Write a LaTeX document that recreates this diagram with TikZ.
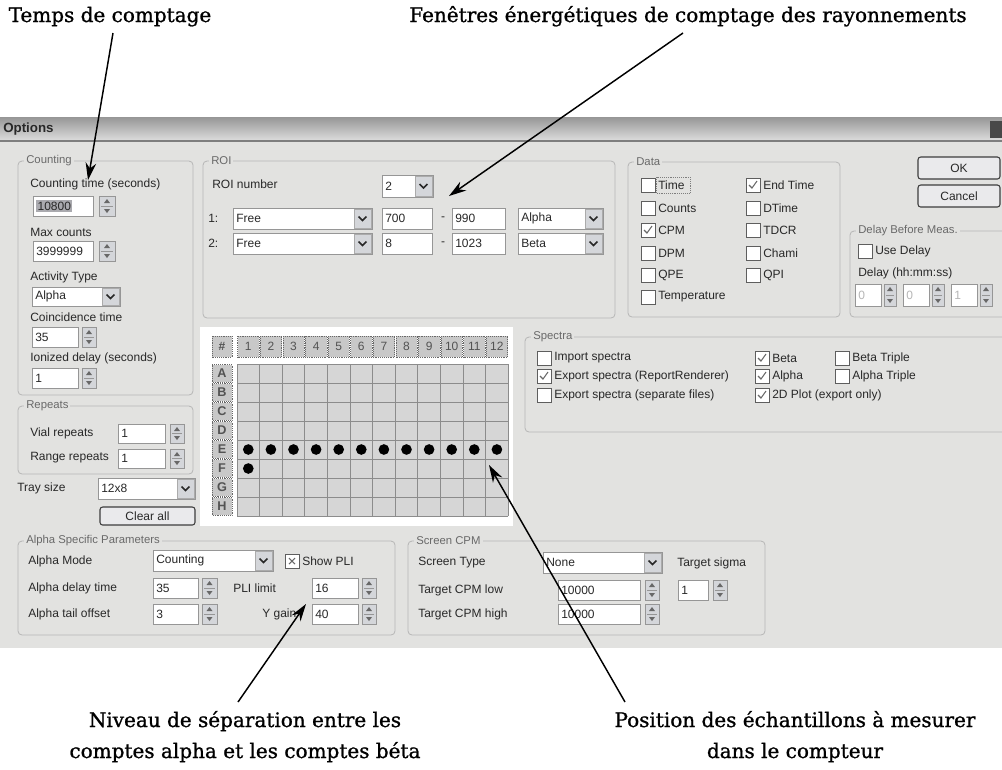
\documentclass[tikz,border=0pt]{standalone}
\usepackage{fontspec}
\usetikzlibrary{arrows.meta, calc}
\newfontfamily\notefont{DejaVu Serif}[FakeBold=1]
\newfontfamily\uifont{Liberation Sans}
\definecolor{dlgbg}{RGB}{226,226,224}
\definecolor{grpcol}{RGB}{182,182,182}
\definecolor{fieldline}{RGB}{150,150,150}
\definecolor{btnface}{RGB}{212,214,218}
\definecolor{cellfill}{RGB}{214,214,214}
\definecolor{cellline}{RGB}{140,140,140}
\definecolor{hdrfill}{RGB}{200,200,200}
\definecolor{titletop}{RGB}{150,150,150}
\definecolor{titlebot}{RGB}{222,222,222}
\definecolor{uiink}{RGB}{40,40,40}
\definecolor{grplabelc}{RGB}{105,105,105}
\definecolor{selfill}{RGB}{170,170,175}

% field: [style] name, x, y, w, h, text
\newcommand{\uifield}[7][]{%
  \draw[fieldbox] (#3,#4) rectangle ++(#5,#6);
  \node[uitext, anchor=west, #1] (#2) at (#3+3,#4+#6/2) {#7};
}
% spinner: x, y, w, h
\newcommand{\uispin}[4]{%
  \draw[spinbox] (#1,#2) rectangle ++(#3,#4);
  \fill[spinarrow] (#1+#3/2,#2+3) -- ++(-3,4) -- ++(6,0) -- cycle;
  \fill[spinarrow] (#1+#3/2,#2+#4-3) -- ++(-3,-4) -- ++(6,0) -- cycle;
  \draw[spinbox] (#1+2,#2+#4/2) -- ++(#3-4,0);
}
% combo: name, x, y, w, h, text
\newcommand{\uicombo}[6]{%
  \draw[fieldbox] (#2,#3) rectangle ++(#4,#5);
  \draw[dropbtn] (#2+#4-18,#3+1) rectangle (#2+#4-1,#3+#5-1);
  \draw[chev] (#2+#4-13.5,#3+#5/2-2) -- ++(4,4) -- ++(4,-4);
  \node[uitext, anchor=west] (#1) at (#2+3,#3+#5/2) {#6};
}
% checkbox: name, x, y, state, text
\newcommand{\uicheck}[5]{%
  \draw[chkbox] (#2,#3-7) rectangle ++(14,14);
  \ifnum#4=1 \draw[chkmark] (#2+3,#3) -- (#2+6,#3+3) -- (#2+11,#3-4);\fi
  \ifnum#4=2 \draw[chkmark] (#2+4,#3-3) -- (#2+10,#3+3) (#2+4,#3+3) -- (#2+10,#3-3);\fi
  \node[uitext, anchor=west] (#1) at (#2+17,#3) {#5};
}
% group: name, x1, y1, x2, y2, label
\newcommand{\uigroup}[6]{%
  \draw[grpframe] (#2,#3) rectangle (#4,#5);
  \node[grplabel, anchor=west] (#1) at (#2+6,#3) {#6};
}
% button: name, x1, y1, x2, y2, text
\newcommand{\uibutton}[6]{%
  \draw[btnbox] (#2,#3) rectangle (#4,#5);
  \node[uitext] (#1) at ($(#2,#3)!0.5!(#4,#5)$) {#6};
}

\begin{document}
\begin{tikzpicture}[
    x=0.75pt, y=-0.75pt,
    note/.style={font=\notefont\fontsize{15}{23.25}\selectfont, align=center, inner sep=0pt},
    uitext/.style={font=\uifont\fontsize{9}{10}\selectfont, text=uiink, inner sep=0pt},
    titletext/.style={font=\uifont\bfseries\fontsize{10}{12}\selectfont, text=uiink, inner sep=0pt},
    grplabel/.style={font=\uifont\fontsize{8.5}{10}\selectfont, text=grplabelc, fill=dlgbg, inner sep=1.5pt},
    fieldbox/.style={draw=fieldline, fill=white, line width=0.6pt},
    spinbox/.style={draw=fieldline, fill=btnface, line width=0.5pt},
    spinarrow/.style={fill=uiink!70},
    dropbtn/.style={draw=fieldline!80, fill=btnface, line width=0.5pt},
    chev/.style={draw=uiink, line width=1.1pt},
    chkbox/.style={draw=uiink!75, fill=white, line width=0.6pt},
    chkmark/.style={draw=uiink!70, line width=0.8pt},
    grpframe/.style={draw=grpcol, line width=0.6pt, rounded corners=3pt},
    btnbox/.style={draw=uiink!90, fill=btnface!50!white, rounded corners=2pt, line width=0.8pt},
    hdr/.style={draw=uiink!70, densely dotted, fill=hdrfill},
    hdrtext/.style={font=\uifont\fontsize{9}{10}\selectfont, text=uiink!80, inner sep=0pt},
    arr/.style={-{Stealth[length=13pt, width=8pt]}, line width=1.1pt, draw=black},
]
\useasboundingbox (0,0) rectangle (1002,769);
\fill[white] (0,0) rectangle (1002,769);

% Window
\shade[top color=titletop, bottom color=titlebot] (0,117) rectangle (1002,141);
\fill[dlgbg] (0,141) rectangle (1002,648);
\draw[uiink!60, line width=0.8pt] (0,141) -- (1002,141);
\node[titletext, anchor=west] (title) at (3,129) {Options};
\fill[uiink!85] (990,121) rectangle (1004,138);

% Counting
\uigroup{gcount}{18}{161}{193}{395}{Counting}
\node[uitext, anchor=west] (lctime) at (30,184) {Counting time (seconds)};
\uifield[fill=selfill, inner sep=1pt]{fctime}{33}{196}{60}{20}{10800}
\uispin{99}{196}{16}{20}
\node[uitext, anchor=west] (lmax) at (30,232) {Max counts};
\uifield{fmax}{33}{241}{60}{20}{3999999}
\uispin{99}{241}{16}{20}
\node[uitext, anchor=west] (lact) at (30,277) {Activity Type};
\uicombo{cact}{32}{287}{88}{19}{Alpha}
\node[uitext, anchor=west] (lcoinc) at (30,317) {Coincidence time};
\uifield{fcoinc}{32}{327}{46}{20}{35}
\uispin{82}{327}{14}{20}
\node[uitext, anchor=west] (lion) at (30,358) {Ionized delay (seconds)};
\uifield{fion}{32}{368}{46}{20}{1}
\uispin{82}{368}{14}{20}

% Repeats
\uigroup{grep}{18}{406}{193}{474}{Repeats}
\node[uitext, anchor=west] (lvial) at (30,433) {Vial repeats};
\uifield{fvial}{118}{424}{47}{19}{1}
\uispin{170}{424}{14}{19}
\node[uitext, anchor=west] (lrange) at (30,458) {Range repeats};
\uifield{frange}{118}{449}{47}{19}{1}
\uispin{170}{449}{14}{19}
\node[uitext, anchor=west] (ltray) at (17,488) {Tray size};
\uicombo{ctray}{98}{478}{97}{21}{12x8}
\uibutton{bclear}{100}{507}{195}{525}{Clear all}

% ROI
\uigroup{groi}{203}{161}{615}{318}{ROI}
\node[uitext, anchor=west] (lroi) at (212,184) {ROI number};
\uicombo{croi}{382}{175}{51}{22}{2}
\node[uitext, anchor=west] (lr1) at (208,218) {1:};
\uicombo{cr1a}{233}{208}{139}{21}{Free}
\uifield{fr1lo}{382}{208}{50}{21}{700}
\node[uitext] (dr1) at (443,219) {-};
\uifield{fr1hi}{452}{208}{53}{21}{990}
\uicombo{cr1t}{518}{208}{85}{21}{Alpha}
\node[uitext, anchor=west] (lr2) at (208,243) {2:};
\uicombo{cr2a}{233}{233}{139}{21}{Free}
\uifield{fr2lo}{382}{233}{50}{21}{8}
\node[uitext] (dr2) at (443,244) {-};
\uifield{fr2hi}{452}{233}{53}{21}{1023}
\uicombo{cr2t}{518}{233}{85}{21}{Beta}

% Data
\uigroup{gdata}{628}{162}{840}{317}{Data}
\uicheck{dtime}{641}{185}{0}{Time}
\draw[uiink!60, densely dotted] (656,177) rectangle (690,193);
\uicheck{dcounts}{641}{208}{0}{Counts}
\uicheck{dcpm}{641}{230}{1}{CPM}
\uicheck{ddpm}{641}{253}{0}{DPM}
\uicheck{dqpe}{641}{275}{0}{QPE}
\uicheck{dtemp}{641}{297}{0}{Temperature}
\uicheck{dend}{746}{185}{1}{End Time}
\uicheck{ddtime}{746}{208}{0}{DTime}
\uicheck{dtdcr}{746}{230}{0}{TDCR}
\uicheck{dchami}{746}{253}{0}{Chami}
\uicheck{dqpi}{746}{275}{0}{QPI}

% OK / Cancel
\uibutton{bok}{918}{157}{1000}{179}{OK}
\uibutton{bcancel}{918}{185}{1000}{207}{Cancel}

% Delay before measurement
\uigroup{gdelay}{850}{231}{1010}{317}{Delay Before Meas.}
\uicheck{usedelay}{858}{251}{0}{Use Delay}
\node[uitext, anchor=west] (ldelay) at (858,273) {Delay (hh:mm:ss)};
\uifield[text=grpcol]{fhh}{855}{284}{26}{22}{0}
\uispin{884}{284}{12}{22}
\uifield[text=grpcol]{fmm}{903}{284}{26}{22}{0}
\uispin{932}{284}{12}{22}
\uifield[text=grpcol]{fss}{951}{284}{26}{22}{1}
\uispin{980}{284}{12}{22}

% Spectra
\uigroup{gspec}{525}{337}{1010}{432}{Spectra}
\uicheck{simport}{537}{358}{0}{Import spectra}
\uicheck{srep}{537}{376}{1}{Export spectra (ReportRenderer)}
\uicheck{ssep}{537}{395}{0}{Export spectra (separate files)}
\uicheck{sbeta}{755}{358}{1}{Beta}
\uicheck{salpha}{755}{376}{1}{Alpha}
\uicheck{splot}{755}{395}{1}{2D Plot (export only)}
\uicheck{sbtrip}{835}{358}{0}{Beta Triple}
\uicheck{satrip}{835}{376}{0}{Alpha Triple}

% Tray grid
\fill[white] (200,327) rectangle (513,526);
\draw[hdr] (212,336) rectangle (232,357);
\node[hdrtext, font=\uifont\bfseries\fontsize{9}{10}\selectfont] (corner) at (222,346.5) {\#};
\foreach \i in {1,...,12} {
  \draw[hdr] (237+\i*22.6-22.6+0.6,336) rectangle (237+\i*22.6-0.6,357);
  \node[hdrtext] (col\i) at (237+\i*22.6-11.3,346.5) {\i};
}
\fill[cellfill] (237,364) rectangle (508.2,516);
\foreach \i in {0,...,12}
  \draw[cellline, line width=0.5pt] (237+\i*22.6,364) -- ++(0,152);
\foreach \k in {0,...,8}
  \draw[cellline, line width=0.5pt] (237,364+19*\k) -- ++(271.2,0);
\foreach \r [count=\k from 0] in {A,B,C,D,E,F,G,H} {
  \draw[hdr] (212,364+19*\k+0.6) rectangle (232,364+19*\k+18.4);
  \node[hdrtext, font=\uifont\bfseries\fontsize{9.5}{10}\selectfont] (row\r) at (222,373.5+19*\k) {\r};
}
\foreach \i in {0,...,11}
  \fill[black] (248.3+\i*22.6,449.5) circle[radius=4pt];
\fill[black] (248.3,468.5) circle[radius=4pt];

% Alpha specific parameters
\uigroup{galpha}{18}{541}{395}{635}{Alpha Specific Parameters}
\node[uitext, anchor=west] (lamode) at (28,561) {Alpha Mode};
\uicombo{camode}{153}{550}{120}{21}{Counting}
\uicheck{showpli}{285}{561}{2}{Show PLI}
\node[uitext, anchor=west] (ladelay) at (28,588) {Alpha delay time};
\uifield{fadelay}{153}{578}{45}{20}{35}
\uispin{202}{578}{15}{20}
\node[uitext, anchor=west] (lpli) at (233,588) {PLI limit};
\uifield{fpli}{312}{578}{46}{20}{16}
\uispin{362}{578}{14}{20}
\node[uitext, anchor=west] (latail) at (28,614) {Alpha tail offset};
\uifield{fatail}{153}{604}{45}{20}{3}
\uispin{202}{604}{15}{20}
\node[uitext, anchor=west] (lygain) at (262,614) {Y gain};
\uifield{fygain}{312}{604}{46}{20}{40}
\uispin{362}{604}{14}{20}

% Screen CPM
\uigroup{gscreen}{408}{541}{765}{635}{Screen CPM}
\node[uitext, anchor=west] (lstype) at (418,563) {Screen Type};
\uicombo{cstype}{543}{552}{119}{21}{None}
\node[uitext, anchor=west] (lsigma) at (677,563) {Target sigma};
\node[uitext, anchor=west] (llow) at (418,590) {Target CPM low};
\uifield{flow}{558}{580}{82}{20}{10000}
\uispin{645}{580}{14}{20}
\uifield{fsigma}{678}{580}{30}{20}{1}
\uispin{713}{580}{14}{20}
\node[uitext, anchor=west] (lhigh) at (418,614) {Target CPM high};
\uifield{fhigh}{558}{604}{82}{20}{10000}
\uispin{645}{604}{14}{20}

% Annotations
\node[note, anchor=base] (tA) at (110,22) {Temps de comptage};
\node[note, anchor=base] (tB) at (688,22) {Fenêtres énergétiques de comptage des rayonnements};
\node[note, anchor=base] (tC) at (245,758) {Niveau de séparation entre les\\comptes alpha et les comptes béta};
\node[note, anchor=base] (tD) at (795,758) {Position des échantillons à mesurer\\dans le compteur};

\coordinate (a1s) at (113,33);
\coordinate (a1t) at (88,180);
\coordinate (a2s) at (683,33);
\coordinate (a2t) at (449,196);
\coordinate (a3s) at (238,702);
\coordinate (a3t) at (306,604);
\coordinate (a4s) at (625,702);
\coordinate (a4t) at (489,465);

% Arrows
\draw[arr] (a1s) -- (a1t);
\draw[arr] (a2s) -- (a2t);
\draw[arr] (a3s) -- (a3t);
\draw[arr] (a4s) -- (a4t);

\end{tikzpicture}
\end{document}
